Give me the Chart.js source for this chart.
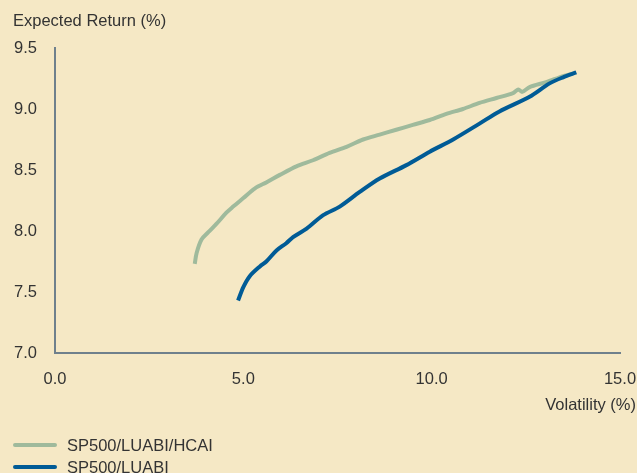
<!DOCTYPE html>
<html lang="en">
<head>
    <meta charset="UTF-8">
    <title>Efficient Frontier</title>
    <script src="https://cdn.jsdelivr.net/npm/chart.js"></script>
    <style>
        body {
            margin: 0;
            background-color: #f5e8c5;
            font-family: "Liberation Sans", Arial, sans-serif;
            color: #333333;
        }

        .wrap {
            position: relative;
            width: 637px;
            height: 473px;
        }

        .y-title {
            position: absolute;
            left: 13px;
            top: 11px;
            font-size: 16.5px;
        }

        .x-title {
            position: absolute;
            right: 1px;
            top: 395px;
            font-size: 16.5px;
        }

        .legend {
            position: absolute;
            left: 13px;
            top: 434px;
            font-size: 16.5px;
        }

        .legend-item {
            display: flex;
            align-items: center;
            height: 22px;
        }

        .swatch {
            width: 44px;
            height: 4px;
            border-radius: 2px;
            margin-right: 10px;
        }
    </style>
</head>
<body>

<div class="wrap">
    <canvas id="frontierChart" width="637" height="473"></canvas>
    <div class="y-title">Expected Return (%)</div>
    <div class="x-title">Volatility (%)</div>
    <div class="legend">
        <div class="legend-item"><span class="swatch" style="background:#9fba9c"></span>SP500/LUABI/HCAI</div>
        <div class="legend-item"><span class="swatch" style="background:#005b96"></span>SP500/LUABI</div>
    </div>
</div>

<script>
// Volatility / expected return
const hcaiVol = [3.71, 3.76, 3.89, 4.07, 4.29, 4.55, 4.73, 5.0, 5.31, 5.62, 5.97, 6.41, 6.85, 7.29, 7.74, 8.18, 8.62, 9.06, 9.5, 9.95, 10.39, 10.83, 11.27, 11.72, 12.16, 12.3, 12.4, 12.6, 13.04, 13.49, 13.75];
const hcaiRet = [7.73, 7.82, 7.93, 7.99, 8.06, 8.15, 8.20, 8.27, 8.35, 8.40, 8.46, 8.53, 8.58, 8.64, 8.69, 8.75, 8.79, 8.83, 8.87, 8.91, 8.96, 9.00, 9.05, 9.09, 9.13, 9.16, 9.14, 9.18, 9.22, 9.27, 9.29];

const luabiVol = [4.86, 5.0, 5.17, 5.44, 5.61, 5.88, 6.14, 6.32, 6.68, 7.12, 7.56, 8.09, 8.62, 9.33, 9.95, 10.57, 11.27, 11.8, 12.6, 13.13, 13.49, 13.84];
const luabiRet = [7.43, 7.54, 7.63, 7.71, 7.75, 7.84, 7.90, 7.95, 8.02, 8.13, 8.20, 8.32, 8.43, 8.54, 8.65, 8.75, 8.88, 8.98, 9.10, 9.21, 9.26, 9.30];

const xTicks = [0, 5, 10, 15];
const yTicks = [7.0, 7.5, 8.0, 8.5, 9.0, 9.5];

function toPoints(xs, ys) {
    return xs.map((x, i) => ({ x: x, y: ys[i] }));
}

const ctx = document.getElementById('frontierChart').getContext('2d');
new Chart(ctx, {
    type: 'scatter',
    data: {
        datasets: [
            {
                label: 'SP500/LUABI',
                data: toPoints(luabiVol, luabiRet),
                showLine: true,
                borderColor: '#005b96',
                borderWidth: 4,
                pointRadius: 0,
                tension: 0.3
            },
            {
                label: 'SP500/LUABI/HCAI',
                data: toPoints(hcaiVol, hcaiRet),
                showLine: true,
                borderColor: '#9fba9c',
                borderWidth: 4,
                pointRadius: 0,
                tension: 0.3
            }
        ]
    },
    options: {
        responsive: false,
        animation: false,
        layout: {
            padding: { top: 48, right: 17, left: 0, bottom: 0 }
        },
        plugins: {
            legend: { display: false },
            tooltip: { enabled: false }
        },
        scales: {
            x: {
                type: 'linear',
                min: 0,
                max: 15,
                afterBuildTicks: axis => { axis.ticks = xTicks.map(v => ({ value: v })); },
                afterFit: axis => {
                    axis.height = 120;
                    axis.paddingLeft = 0;
                    axis.paddingRight = 0;
                },
                grid: { display: false, drawTicks: false },
                border: { display: true, color: '#6f808c', width: 2 },
                ticks: {
                    padding: 17,
                    color: '#333333',
                    font: { family: 'Liberation Sans', size: 16.5 },
                    callback: v => v.toFixed(1)
                }
            },
            y: {
                type: 'linear',
                min: 7,
                max: 9.5,
                afterBuildTicks: axis => { axis.ticks = yTicks.map(v => ({ value: v })); },
                afterFit: axis => { axis.width = 55; },
                grid: { display: false, drawTicks: false },
                border: { display: true, color: '#6f808c', width: 2 },
                ticks: {
                    padding: 18,
                    color: '#333333',
                    font: { family: 'Liberation Sans', size: 16.5 },
                    callback: v => v.toFixed(1)
                }
            }
        }
    }
});
</script>
</body>
</html>
